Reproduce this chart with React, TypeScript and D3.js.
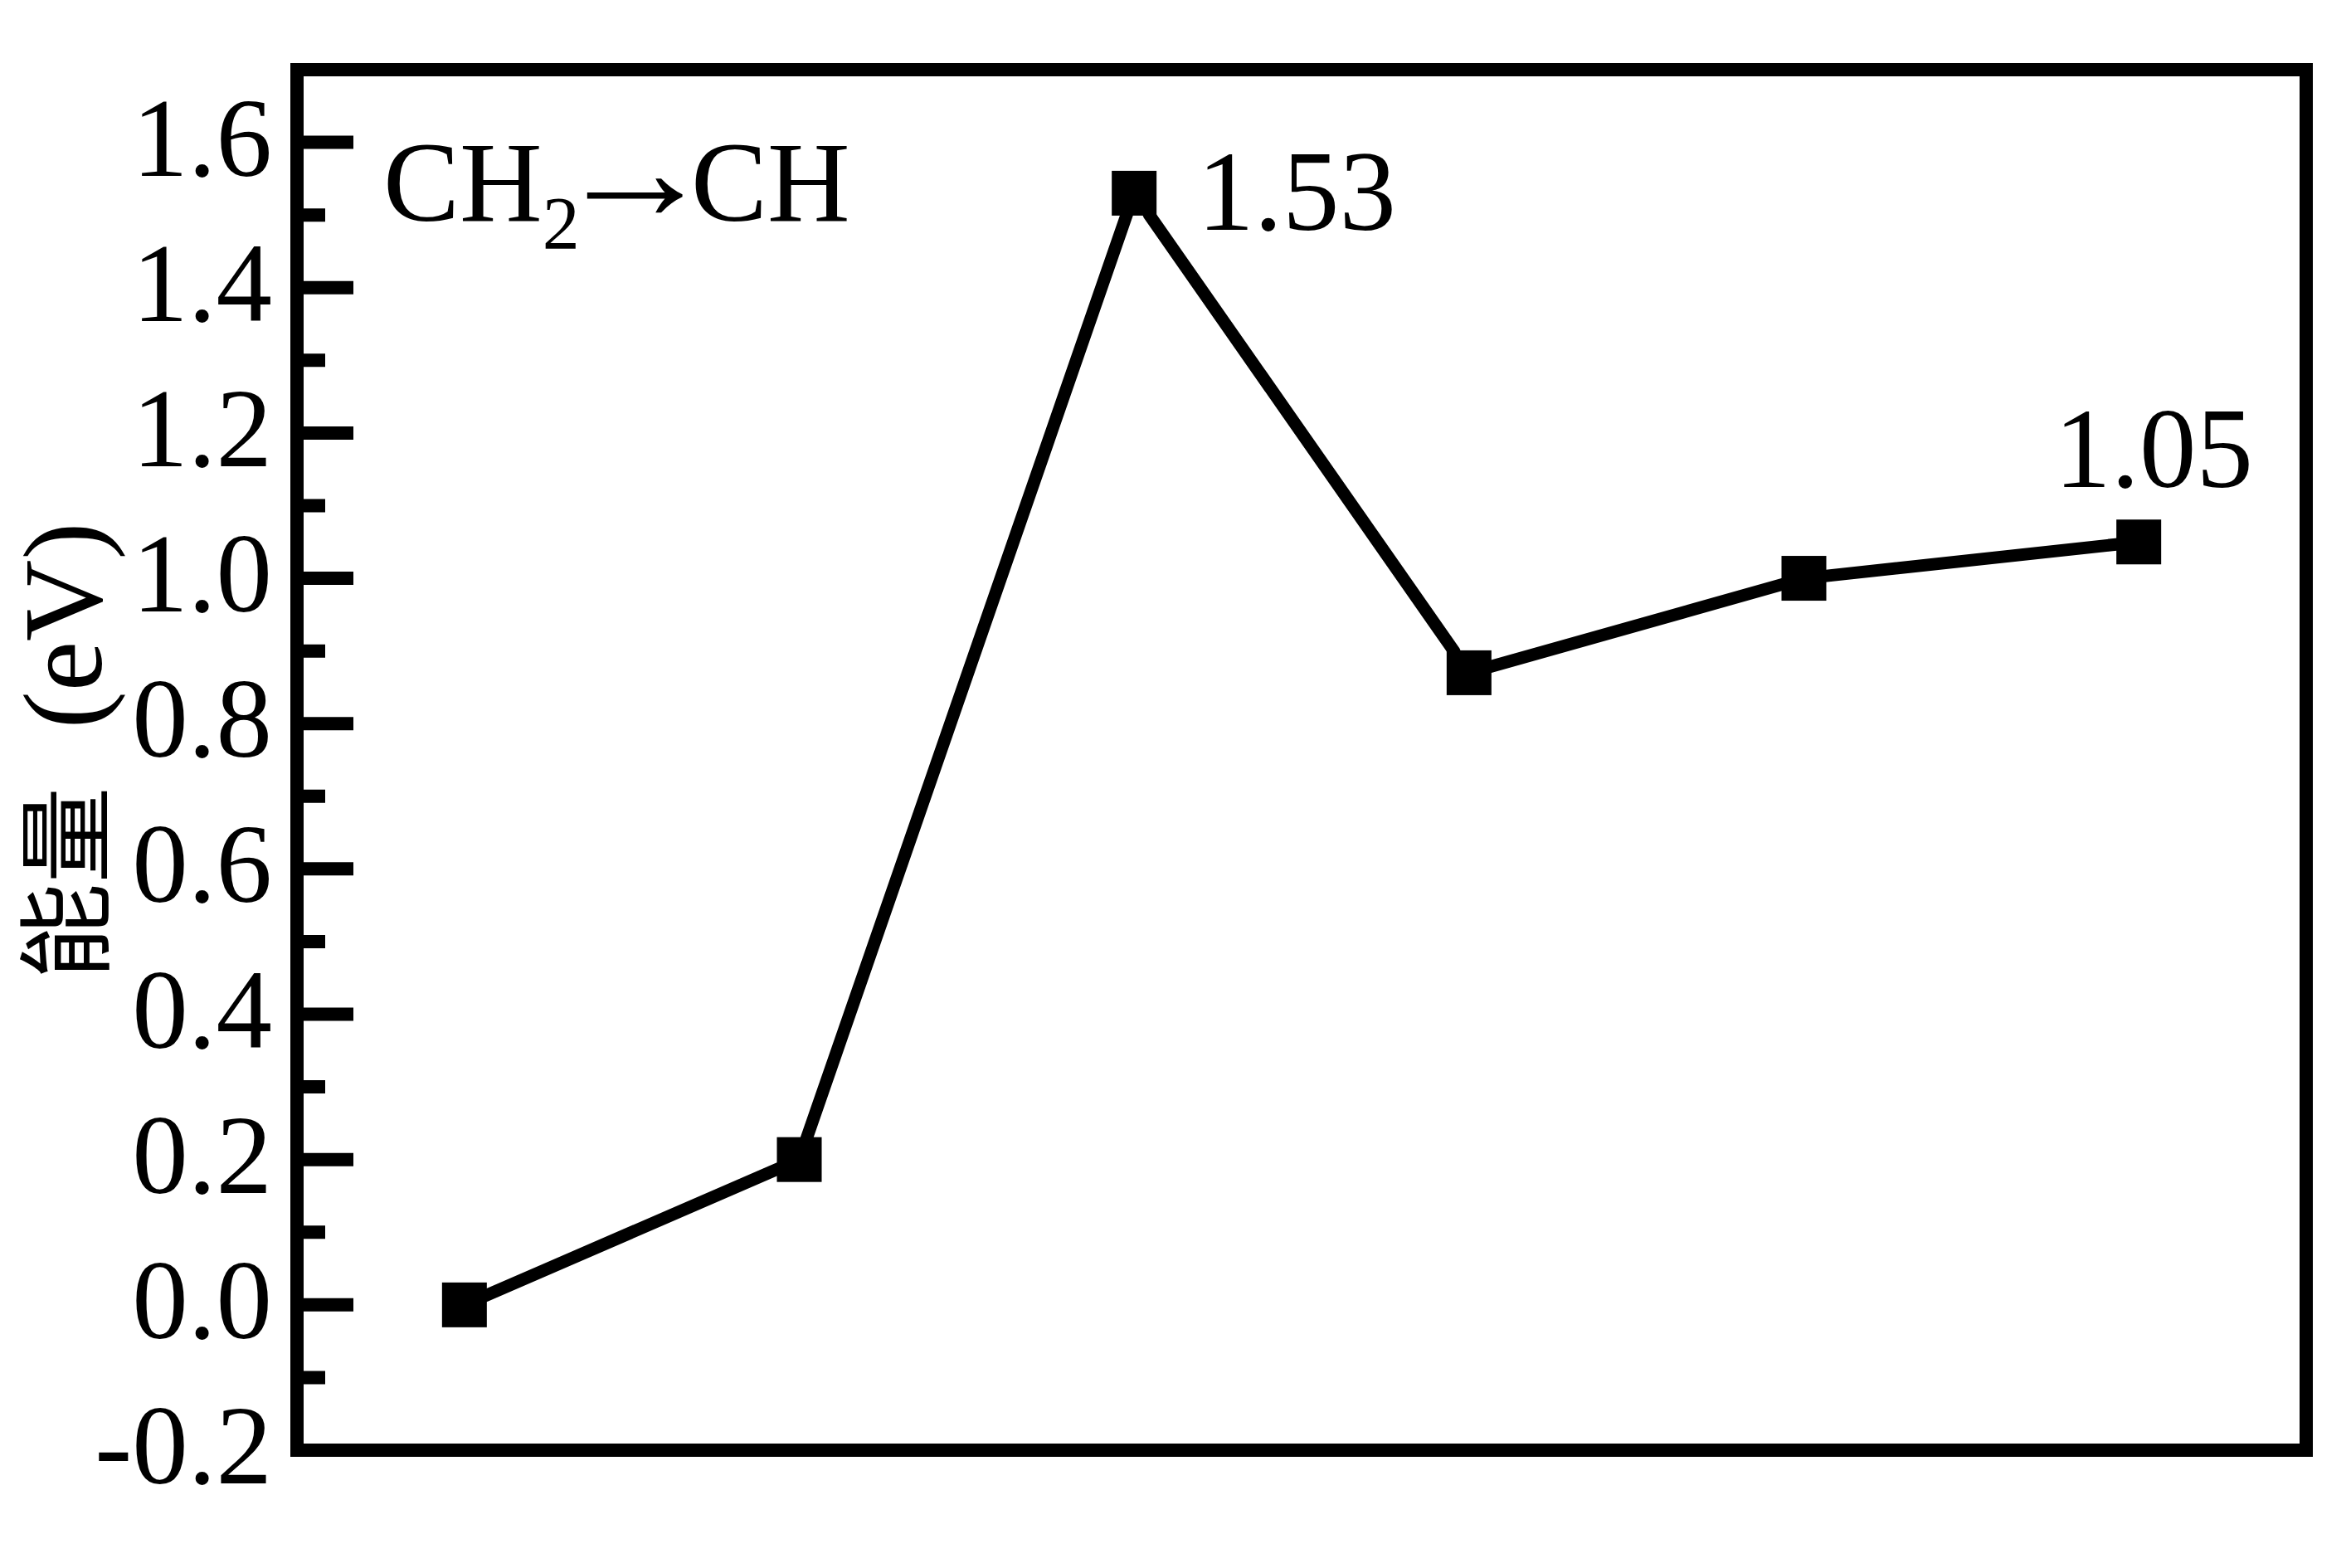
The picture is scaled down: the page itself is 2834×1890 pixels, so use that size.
import React from "react";
import * as d3 from "d3";

const steps = [1, 2, 3, 4, 5, 6];
const energies = [0.0, 0.2, 1.53, 0.87, 1.0, 1.05];
const majorTicks = [-0.2, 0.0, 0.2, 0.4, 0.6, 0.8, 1.0, 1.2, 1.4, 1.6];
const minorTicks = [-0.1, 0.1, 0.3, 0.5, 0.7, 0.9, 1.1, 1.3, 1.5];
const annotations = [
  { index: 2, text: "1.53" },
  { index: 5, text: "1.05" },
];
const reactionParts = ["CH", "2", "→", "CH"];
const yLabelCJK = "能量";
const yLabelUnit = "(eV)";

const W = 2834;
const H = 1890;
const left = 358;
const right = 2780;
const top = 84;
const bottom = 1748;
const serif = "'Liberation Serif', 'Times New Roman', serif";

export default function App() {
  const x = d3.scaleLinear().domain([0.5, 6.5]).range([left, right]);
  const y = d3.scaleLinear().domain([-0.2, 1.7]).range([bottom, top]);
  const pts = steps.map((s, i) => [x(s), y(energies[i])] as [number, number]);
  const half = 27;

  const segs = pts.slice(1).map((p, i) => {
    const a = pts[i];
    const dx = p[0] - a[0];
    const dy = p[1] - a[1];
    const len = Math.hypot(dx, dy);
    const ux = dx / len;
    const uy = dy / len;
    const cut = half / Math.max(Math.abs(ux), Math.abs(uy)) - 2;
    return [a[0] + ux * cut, a[1] + uy * cut, p[0] - ux * cut, p[1] - uy * cut];
  });

  const fmt = (v: number) => d3.format(".1f")(v).replace("\u2212", "-");

  return (
    <svg width={W} height={H} style={{ position: "absolute", left: 0, top: 0, background: "#fff" }}>
      <rect x={0} y={0} width={W} height={H} fill="#fff" />
      {/* ticks */}
      {majorTicks.map((t) => (
        <line key={"M" + t} x1={left} x2={426} y1={y(t)} y2={y(t)} stroke="#000" strokeWidth={16} />
      ))}
      {minorTicks.map((t) => (
        <line key={"m" + t} x1={left} x2={392} y1={y(t)} y2={y(t)} stroke="#000" strokeWidth={16} />
      ))}
      {majorTicks.map((t) => (
        <text key={"L" + t} x={328} y={y(t) + 40} textAnchor="end" fontFamily={serif} fontSize={135} fill="#000">
          {fmt(t)}
        </text>
      ))}
      {/* frame */}
      <rect x={left} y={top} width={right - left} height={bottom - top} fill="none" stroke="#000" strokeWidth={16} />
      {/* line segments */}
      {segs.map((s, i) => (
        <line key={"s" + i} x1={s[0]} y1={s[1]} x2={s[2]} y2={s[3]} stroke="#000" strokeWidth={15} strokeLinecap="round" />
      ))}
      {/* markers */}
      {pts.map((p, i) => (
        <rect key={"p" + i} x={p[0] - half} y={p[1] - half} width={half * 2} height={half * 2} fill="#000" />
      ))}
      {/* value annotations */}
      <text x={pts[annotations[0].index][0] + 76} y={pts[annotations[0].index][1] + 44} fontFamily={serif} fontSize={137} fill="#000">
        {annotations[0].text}
      </text>
      <text x={pts[annotations[1].index][0] - 102} y={pts[annotations[1].index][1] - 66} fontFamily={serif} fontSize={137} fill="#000">
        {annotations[1].text}
      </text>
      {/* reaction label */}
      <text fontFamily={serif} fill="#000">
        <tspan x={462} y={266} fontSize={138}>
          {reactionParts[0]}
        </tspan>
        <tspan y={300} fontSize={90}>
          {reactionParts[1]}
        </tspan>
        <tspan x={668} y={265} fontSize={175} textLength={194} lengthAdjust="spacingAndGlyphs">
          {reactionParts[2]}
        </tspan>
        <tspan x={833} y={266} fontSize={138}>
          {reactionParts[3]}
        </tspan>
      </text>
      {/* y axis label */}
      <g transform="translate(122,905) rotate(-90)">
        <text x={0} y={0} textAnchor="middle" fontFamily={serif} fontSize={136} fill="#000">
          <tspan fontFamily="'Noto Sans CJK SC', sans-serif" fontSize={116}>{yLabelCJK}</tspan>
          <tspan dx={36}> {yLabelUnit}</tspan>
        </text>
      </g>
    </svg>
  );
}
